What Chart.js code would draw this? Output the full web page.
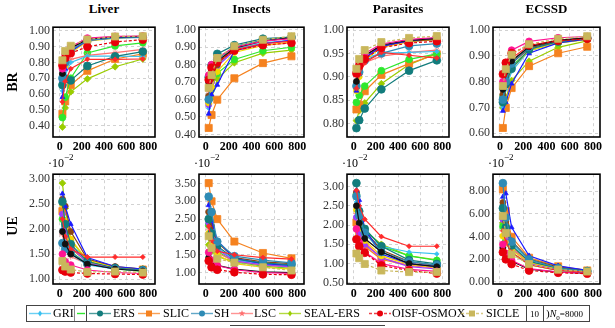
<!DOCTYPE html>
<html>
<head>
<meta charset="utf-8">
<script src="https://cdn.jsdelivr.net/npm/chart.js@4.4.1/dist/chart.umd.min.js"></script>
<style>
  body { margin: 0; background: #fff; font-family: "Liberation Serif", serif; }
  #wrap { position: relative; width: 615px; height: 328px; overflow: hidden; background: #fff; }
  #wrap canvas { position: absolute; }
  .title { position: absolute; top: 1px; font-weight: bold; font-size: 13px; text-align: center; }
  .rowlab { position: absolute; font-weight: bold; font-size: 14px; transform: rotate(-90deg); transform-origin: center; }
  .exp { position: absolute; font-size: 12px; }
  .exp sup { font-size: 9px; position: relative; top: -2px; }
  #legend { position: absolute; left: 26px; top: 305px; width: 564px; height: 17px; border: 1px solid #444; box-sizing: border-box; }
  .li { position: absolute; top: 0; height: 15px; font-size: 12px; line-height: 15px; white-space: nowrap; }
  .vline { position: absolute; top: 0; width: 0; height: 15px; }
</style>
</head>
<body>
<div id="wrap"></div>
<script>
// ===== DATA =====
const xs = [25, 50, 100, 250, 500, 750];
const xTicks = [0, 200, 400, 600, 800];
const datasetNames = ['Liver', 'Insects', 'Parasites', 'ECSSD'];

// draw order: first = on top
const methods = ['SICLE', 'OISF-OSMOX', 'magenta', 'black', 'reddiam', 'SH', 'ERS', 'blue',
                 'brown', 'yellow', 'purple', 'GRI', 'LSC', 'green', 'SLIC', 'SEAL-ERS'];
const methodColors = ['#c9b75c', '#e8000b', '#ff1493', '#111111', '#ff2b2b', '#2e8bb5', '#127c7c', '#1a1aff',
                      '#8b4513', '#f5d800', '#9b3dff', '#38c0f0', '#ff7070', '#2ee82e', '#f5821f', '#9acd00'];
const methodMarkers = ['rect', 'circle', 'circle', 'circle', 'rectRot', 'circle', 'circle', 'triangle',
                       'circle', 'circle', 'circle', 'rectRot', 'star', 'circle', 'rect', 'rectRot'];
const methodRadius = [5, 3.9, 3.4, 3, 2.5, 3.9, 3.9, 2.8, 3, 3, 3, 2.3, 3.2, 3.4, 5, 3.4];
const methodDash = [[3, 2], [3, 2], [], [], [], [], [], [], [], [], [], [], [], [], [], []];

// Boundary recall (BR)
const brLiver = {
  'SICLE': [0.814, 0.873, 0.906, 0.946, 0.965, 0.967],
  'OISF-OSMOX': [0.781, 0.828, 0.859, 0.900, 0.930, 0.945],
  'magenta': [0.76, 0.85, 0.90, 0.955, 0.966, 0.968],
  'black': [0.73, 0.83, 0.89, 0.95, 0.962, 0.966],
  'reddiam': [0.55, 0.68, 0.76, 0.820, 0.820, 0.822],
  'SH': [0.70, 0.80, 0.88, 0.94, 0.955, 0.96],
  'ERS': [0.657, 0.696, 0.686, 0.778, 0.839, 0.869],
  'blue': [0.58, 0.76, 0.87, 0.94, 0.958, 0.963],
  'brown': [0.72, 0.82, 0.89, 0.945, 0.96, 0.965],
  'yellow': [0.66, 0.78, 0.86, 0.935, 0.955, 0.962],
  'purple': [0.68, 0.79, 0.87, 0.94, 0.957, 0.963],
  'GRI': [0.62, 0.72, 0.80, 0.84, 0.84, 0.838],
  'LSC': [0.70, 0.78, 0.82, 0.845, 0.862, 0.883],
  'green': [0.45, 0.58, 0.70, 0.86, 0.905, 0.925],
  'SLIC': [0.474, 0.553, 0.657, 0.747, 0.822, 0.855],
  'SEAL-ERS': [0.390, 0.512, 0.614, 0.696, 0.773, 0.822]
};
const brInsects = {
  'SICLE': [0.667, 0.740, 0.838, 0.906, 0.943, 0.963],
  'OISF-OSMOX': [0.713, 0.783, 0.814, 0.881, 0.912, 0.925],
  'magenta': [0.74, 0.80, 0.84, 0.90, 0.935, 0.95],
  'black': [0.70, 0.77, 0.82, 0.895, 0.935, 0.955],
  'reddiam': [0.66, 0.75, 0.81, 0.885, 0.92, 0.935],
  'SH': [0.60, 0.74, 0.83, 0.905, 0.94, 0.955],
  'ERS': [0.728, 0.796, 0.862, 0.912, 0.949, 0.958],
  'blue': [0.518, 0.628, 0.684, 0.88, 0.92, 0.94],
  'brown': [0.62, 0.72, 0.80, 0.90, 0.94, 0.96],
  'yellow': [0.58, 0.67, 0.76, 0.87, 0.91, 0.93],
  'purple': [0.57, 0.70, 0.79, 0.88, 0.92, 0.94],
  'GRI': [0.55, 0.68, 0.79, 0.89, 0.925, 0.94],
  'LSC': [0.65, 0.74, 0.81, 0.88, 0.91, 0.925],
  'green': [0.60, 0.66, 0.75, 0.83, 0.88, 0.90],
  'SLIC': [0.437, 0.511, 0.599, 0.722, 0.809, 0.848],
  'SEAL-ERS': [0.580, 0.608, 0.718, 0.811, 0.866, 0.884]
};
const brParasites = {
  'SICLE': [0.917, 0.938, 0.957, 0.974, 0.983, 0.987],
  'OISF-OSMOX': [0.907, 0.923, 0.938, 0.962, 0.972, 0.976],
  'magenta': [0.91, 0.93, 0.95, 0.97, 0.98, 0.984],
  'black': [0.89, 0.925, 0.945, 0.968, 0.978, 0.982],
  'reddiam': [0.875, 0.905, 0.93, 0.952, 0.946, 0.940],
  'SH': [0.88, 0.91, 0.935, 0.950, 0.966, 0.971],
  'ERS': [0.790, 0.807, 0.832, 0.873, 0.913, 0.935],
  'blue': [0.87, 0.905, 0.94, 0.965, 0.977, 0.983],
  'brown': [0.885, 0.915, 0.945, 0.966, 0.976, 0.98],
  'yellow': [0.87, 0.90, 0.935, 0.963, 0.975, 0.98],
  'purple': [0.88, 0.91, 0.94, 0.965, 0.975, 0.98],
  'GRI': [0.89, 0.92, 0.94, 0.950, 0.952, 0.954],
  'LSC': [0.88, 0.905, 0.93, 0.944, 0.952, 0.957],
  'green': [0.845, 0.86, 0.88, 0.913, 0.937, 0.949],
  'SLIC': [0.830, 0.840, 0.869, 0.904, 0.928, 0.948],
  'SEAL-ERS': [0.806, 0.827, 0.844, 0.885, 0.926, 0.950]
};
const brEcssd = {
  'SICLE': [0.783, 0.848, 0.904, 0.945, 0.966, 0.976],
  'OISF-OSMOX': [0.829, 0.873, 0.910, 0.941, 0.958, 0.966],
  'magenta': [0.80, 0.87, 0.922, 0.956, 0.97, 0.975],
  'black': [0.77, 0.84, 0.88, 0.935, 0.96, 0.97],
  'reddiam': [0.78, 0.85, 0.89, 0.94, 0.96, 0.968],
  'SH': [0.730, 0.80, 0.87, 0.935, 0.96, 0.97],
  'ERS': [0.72, 0.79, 0.85, 0.925, 0.955, 0.968],
  'blue': [0.686, 0.72, 0.792, 0.91, 0.95, 0.965],
  'brown': [0.75, 0.82, 0.87, 0.93, 0.958, 0.97],
  'yellow': [0.73, 0.79, 0.85, 0.92, 0.95, 0.963],
  'purple': [0.74, 0.81, 0.87, 0.93, 0.957, 0.967],
  'GRI': [0.70, 0.77, 0.84, 0.92, 0.952, 0.965],
  'LSC': [0.76, 0.83, 0.88, 0.935, 0.958, 0.968],
  'green': [0.74, 0.80, 0.86, 0.92, 0.95, 0.965],
  'SLIC': [0.620, 0.698, 0.775, 0.860, 0.910, 0.935],
  'SEAL-ERS': [0.698, 0.736, 0.804, 0.879, 0.933, 0.958]
};

// Undersegmentation error (UE), in units of 10^-2
const ueLiver = {
  'SICLE': [1.36, 1.25, 1.19, 1.14, 1.15, 1.13],
  'OISF-OSMOX': [1.18, 1.15, 1.13, 1.11, 1.10, 1.09],
  'magenta': [1.5, 1.35, 1.28, 1.18, 1.13, 1.11],
  'black': [1.95, 1.7, 1.5, 1.3, 1.2, 1.16],
  'reddiam': [2.2, 1.85, 1.6, 1.44, 1.44, 1.44],
  'SH': [1.72, 1.6, 1.54, 1.3, 1.2, 1.17],
  'ERS': [2.55, 2.1, 1.7, 1.35, 1.22, 1.18],
  'blue': [2.71, 2.46, 2.10, 1.43, 1.25, 1.20],
  'brown': [2.6, 2.46, 1.95, 1.4, 1.25, 1.2],
  'yellow': [2.5, 2.15, 1.8, 1.38, 1.24, 1.2],
  'purple': [2.3, 2.0, 1.65, 1.32, 1.21, 1.17],
  'GRI': [2.0, 1.75, 1.5, 1.28, 1.2, 1.17],
  'LSC': [1.9, 1.65, 1.45, 1.3, 1.22, 1.2],
  'green': [2.2, 1.9, 1.55, 1.3, 1.2, 1.15],
  'SLIC': [2.36, 1.99, 1.62, 1.33, 1.21, 1.19],
  'SEAL-ERS': [2.92, 2.42, 1.78, 1.36, 1.21, 1.19]
};
const ueInsects = {
  'SICLE': [2.02, 1.69, 1.39, 1.28, 1.15, 1.06],
  'OISF-OSMOX': [1.33, 1.15, 1.08, 1.01, 0.95, 0.94],
  'magenta': [1.57, 1.35, 1.2, 1.08, 1.0, 0.98],
  'black': [1.42, 1.3, 1.2, 1.1, 1.02, 1.0],
  'reddiam': [2.3, 1.9, 1.6, 1.5, 1.42, 1.38],
  'SH': [3.13, 2.7, 1.87, 1.46, 1.35, 1.27],
  'ERS': [2.5, 2.1, 1.75, 1.38, 1.27, 1.22],
  'blue': [2.89, 2.45, 1.9, 1.4, 1.25, 1.2],
  'brown': [2.7, 2.3, 1.85, 1.42, 1.3, 1.25],
  'yellow': [2.1, 1.75, 1.5, 1.25, 1.15, 1.1],
  'purple': [2.4, 2.0, 1.65, 1.33, 1.22, 1.16],
  'GRI': [2.6, 2.1, 1.7, 1.35, 1.25, 1.2],
  'LSC': [2.2, 1.8, 1.55, 1.32, 1.2, 1.15],
  'green': [2.33, 1.95, 1.6, 1.3, 1.18, 1.12],
  'SLIC': [3.51, 3.00, 2.50, 1.87, 1.55, 1.40],
  'SEAL-ERS': [1.78, 1.6, 1.45, 1.3, 1.22, 1.18]
};
const ueParasites = {
  'SICLE': [1.26, 1.14, 0.99, 0.82, 0.78, 0.78],
  'OISF-OSMOX': [1.63, 1.45, 1.28, 0.95, 0.82, 0.74],
  'magenta': [1.9, 1.55, 1.3, 1.0, 0.85, 0.8],
  'black': [2.5, 2.05, 1.65, 1.3, 1.0, 0.92],
  'reddiam': [2.9, 2.5, 2.15, 1.70, 1.45, 1.45],
  'SH': [2.75, 2.25, 1.8, 1.3, 1.05, 0.96],
  'ERS': [3.09, 2.36, 1.90, 1.45, 1.09, 0.99],
  'blue': [2.9, 2.65, 1.9, 1.25, 1.0, 0.92],
  'brown': [2.85, 2.3, 1.85, 1.35, 1.05, 0.95],
  'yellow': [2.4, 1.95, 1.6, 1.2, 0.98, 0.9],
  'purple': [2.2, 1.8, 1.5, 1.15, 0.92, 0.86],
  'GRI': [2.6, 2.1, 1.75, 1.45, 1.3, 1.25],
  'LSC': [2.3, 1.9, 1.55, 1.15, 0.95, 0.88],
  'green': [2.8, 2.3, 1.9, 1.45, 1.2, 1.08],
  'SLIC': [2.07, 1.75, 1.45, 1.11, 0.95, 0.90],
  'SEAL-ERS': [2.7, 2.2, 1.85, 1.5, 1.2, 1.10]
};
const ueEcssd = {
  'SICLE': [5.81, 4.31, 2.41, 1.56, 1.07, 0.9],
  'OISF-OSMOX': [2.61, 1.98, 1.56, 0.99, 0.79, 0.71],
  'magenta': [3.3, 2.5, 1.9, 1.15, 0.85, 0.75],
  'black': [3.0, 2.3, 1.8, 1.1, 0.85, 0.75],
  'reddiam': [4.5, 3.5, 2.6, 1.5, 1.0, 0.85],
  'SH': [8.71, 5.67, 3.54, 1.98, 1.19, 0.90],
  'ERS': [6.5, 4.8, 3.2, 1.8, 1.2, 0.95],
  'blue': [7.5, 7.8, 4.8, 2.3, 1.4, 1.0],
  'brown': [7.0, 5.3, 3.6, 2.0, 1.3, 1.0],
  'yellow': [4.03, 3.4, 2.8, 1.7, 1.15, 0.9],
  'purple': [5.5, 4.0, 2.9, 1.6, 1.1, 0.88],
  'GRI': [6.8, 5.0, 3.4, 1.9, 1.25, 0.95],
  'LSC': [6.0, 4.5, 3.0, 1.7, 1.1, 0.88],
  'green': [4.88, 3.6, 2.6, 1.5, 1.0, 0.85],
  'SLIC': [8.16, 6.24, 3.97, 2.12, 1.36, 1.0],
  'SEAL-ERS': [5.2, 4.2, 3.1, 1.75, 1.15, 0.92]
};

// axis limits and tick labels
const brRange = [[0.327, 1.024], [0.385, 1.015], [0.771, 1.006], [0.585, 1.011]];
const brTicks = [[0.4, 0.5, 0.6, 0.7, 0.8, 0.9, 1.0], [0.4, 0.5, 0.6, 0.7, 0.8, 0.9, 1.0],
                 [0.80, 0.85, 0.90, 0.95, 1.00], [0.6, 0.7, 0.8, 0.9, 1.0]];
const ueRange = [[0.9, 3.1], [0.68, 3.76], [0.47, 3.32], [-0.2, 9.5]];
const ueTicks = [[1.0, 1.5, 2.0, 2.5, 3.0], [1.0, 1.5, 2.0, 2.5, 3.0, 3.5],
                 [0.5, 1.0, 1.5, 2.0, 2.5, 3.0], [0, 2, 4, 6, 8]];

// legend entries shown in the figure
const legendNames = ['GRI', 'ERS', 'SLIC', 'SH', 'LSC', 'SEAL-ERS', 'OISF-OSMOX', 'SICLE'];

// ===== LAYOUT =====
const colBoxes = [[53, 155], [199, 304], [347, 449], [493, 600]];
const rowTops = [23, 170];
const rowH = 114;
const Y_W = 45, X_H = 18, PAD_T = 6, PAD_R = 8;
const serif = 'Liberation Serif';

const wrap = document.getElementById('wrap');

// frame round the plot area
const framePlugin = {
  id: 'frame',
  afterDatasetsDraw(chart) {
    const a = chart.chartArea, ctx = chart.ctx;
    ctx.save();
    ctx.strokeStyle = '#000';
    ctx.lineWidth = 1.6;
    ctx.strokeRect(a.left, a.top, a.right - a.left, a.bottom - a.top);
    ctx.restore();
  }
};

function addDiv(cls, html, style) {
  const d = document.createElement('div');
  d.className = cls;
  d.innerHTML = html;
  Object.assign(d.style, style);
  wrap.appendChild(d);
  return d;
}

function makePanel(col, row, values, range, ticks) {
  const [L, R] = colBoxes[col];
  const top = rowTops[row];
  const w = R - L;
  const cv = document.createElement('canvas');
  cv.width = w + Y_W + PAD_R;
  cv.height = rowH + X_H + PAD_T;
  cv.style.left = (L - Y_W) + 'px';
  cv.style.top = (top - PAD_T) + 'px';
  wrap.appendChild(cv);

  const datasets = methods.map((m, i) => ({
    label: m,
    data: xs.map((x, j) => ({ x: x, y: values[m][j] })),
    borderColor: methodColors[i],
    backgroundColor: methodColors[i],
    borderWidth: 1.2,
    borderDash: methodDash[i],
    pointStyle: methodMarkers[i],
    pointRadius: methodRadius[i],
    pointBorderColor: methodColors[i],
    pointBorderWidth: 0.8,
    tension: 0,
    fill: false
  }));

  new Chart(cv, {
    type: 'line',
    data: { datasets },
    options: {
      responsive: false,
      animation: false,
      layout: { padding: { top: PAD_T, right: PAD_R, left: 0, bottom: 0 } },
      plugins: { legend: { display: false }, tooltip: { enabled: false } },
      scales: {
        x: {
          type: 'linear', min: -60, max: 860,
          afterBuildTicks: s => { s.ticks = xTicks.map(v => ({ value: v })); },
          afterFit: s => { s.height = X_H; },
          grid: { color: '#d2d2d2', drawTicks: false },
          border: { display: false, dash: [3, 3] },
          ticks: { padding: 3, color: '#000', autoSkip: false, maxRotation: 0,
                   font: { family: serif, size: 12, weight: 'bold' } }
        },
        y: {
          type: 'linear', min: range[0], max: range[1],
          afterBuildTicks: s => { s.ticks = ticks.map(v => ({ value: v })); },
          afterFit: s => { s.width = Y_W; },
          grid: { color: '#d2d2d2', drawTicks: false },
          border: { display: false, dash: [3, 3] },
          ticks: { padding: 3, color: '#333', autoSkip: false,
                   font: { family: serif, size: 12 },
                   callback: v => Number(v).toFixed(2) }
        }
      }
    },
    plugins: [framePlugin]
  });
}

const brData = [brLiver, brInsects, brParasites, brEcssd];
const ueData = [ueLiver, ueInsects, ueParasites, ueEcssd];

for (let c = 0; c < 4; c++) {
  makePanel(c, 0, brData[c], brRange[c], brTicks[c]);
  makePanel(c, 1, ueData[c], ueRange[c], ueTicks[c]);
  const [L, R] = colBoxes[c];
  addDiv('title', datasetNames[c], { left: L + 'px', width: (R - L) + 'px' });
  addDiv('exp', '&middot;10<sup>&minus;2</sup>', { left: (L - 5) + 'px', top: '154px' });
}

addDiv('rowlab', 'BR', { left: '2px', top: '74px', width: '22px', textAlign: 'center' });
addDiv('rowlab', 'UE', { left: '2px', top: '218px', width: '22px', textAlign: 'center' });

// ===== LEGEND =====
const legend = document.createElement('div');
legend.id = 'legend';
wrap.appendChild(legend);

function markerSvg(shape, color) {
  const cx = 11, cy = 7.5;
  if (shape === 'rect') return `<rect x="${cx - 3}" y="${cy - 3}" width="6" height="6" fill="${color}"/>`;
  if (shape === 'rectRot') return `<polygon points="${cx},${cy - 3} ${cx + 2},${cy} ${cx},${cy + 3} ${cx - 2},${cy}" fill="${color}"/>`;
  if (shape === 'star') {
    let p = [];
    for (let k = 0; k < 10; k++) {
      const r = k % 2 ? 1.4 : 3.4, a = -Math.PI / 2 + k * Math.PI / 5;
      p.push((cx + r * Math.cos(a)).toFixed(2) + ',' + (cy + r * Math.sin(a)).toFixed(2));
    }
    return `<polygon points="${p.join(' ')}" fill="${color}"/>`;
  }
  return `<circle cx="${cx}" cy="${cy}" r="3" fill="${color}"/>`;
}

function symbol(name, x) {
  const i = methods.indexOf(name);
  const color = methodColors[i];
  const dash = methodDash[i].length ? 'stroke-dasharray="3,2"' : '';
  const s = document.createElement('div');
  s.className = 'li';
  s.style.left = x + 'px';
  s.innerHTML = `<svg width="22" height="15"><line x1="0" y1="7.5" x2="22" y2="7.5" stroke="${color}" stroke-opacity="0.75" stroke-width="1.4" ${dash}/>${markerSvg(methodMarkers[i], color)}</svg>`;
  legend.appendChild(s);
}

function label(text, x, w) {
  const t = document.createElement('div');
  t.className = 'li';
  t.style.left = x + 'px';
  if (w) { t.style.width = w + 'px'; t.style.overflow = 'hidden'; }
  t.innerHTML = text;
  legend.appendChild(t);
}

function vline(x, color) {
  const v = document.createElement('div');
  v.className = 'vline';
  v.style.left = x + 'px';
  v.style.borderLeft = '1px solid ' + color;
  legend.appendChild(v);
}

// positions relative to the legend box (left edge at 26px)
const legendSymX = [2, 62, 111, 164, 204, 252, 342, 434];
const legendTxtX = [26, 86, 136, 187, 227, 277, 365, 459];
legendNames.forEach((n, k) => {
  symbol(n, legendSymX[k]);
  label(n, legendTxtX[k], n === 'GRI' ? 21 : 0);
});
// overlapping boxes of the original figure
vline(47, '#888');
const g = document.createElement('div');
g.className = 'li';
g.style.left = '50px';
g.innerHTML = '<svg width="8" height="15"><line x1="0" y1="7.5" x2="8" y2="7.5" stroke="#2ee82e" stroke-width="1.4"/></svg>';
legend.appendChild(g);
vline(59, '#444');
vline(499, '#444');
vline(516, '#444');
label('<span style="font-size:9px">10</span>', 503, 0);
label('<span style="font-size:11px">)</span><i style="font-size:10px">N</i><sub style="font-size:7px">0</sub><span style="font-size:9px">=8000</span>', 519, 0);

addDiv('', '', { position: 'absolute', left: '230px', top: '325px', width: '155px', height: '0', borderTop: '1px solid #444' });
</script>
</body>
</html>
